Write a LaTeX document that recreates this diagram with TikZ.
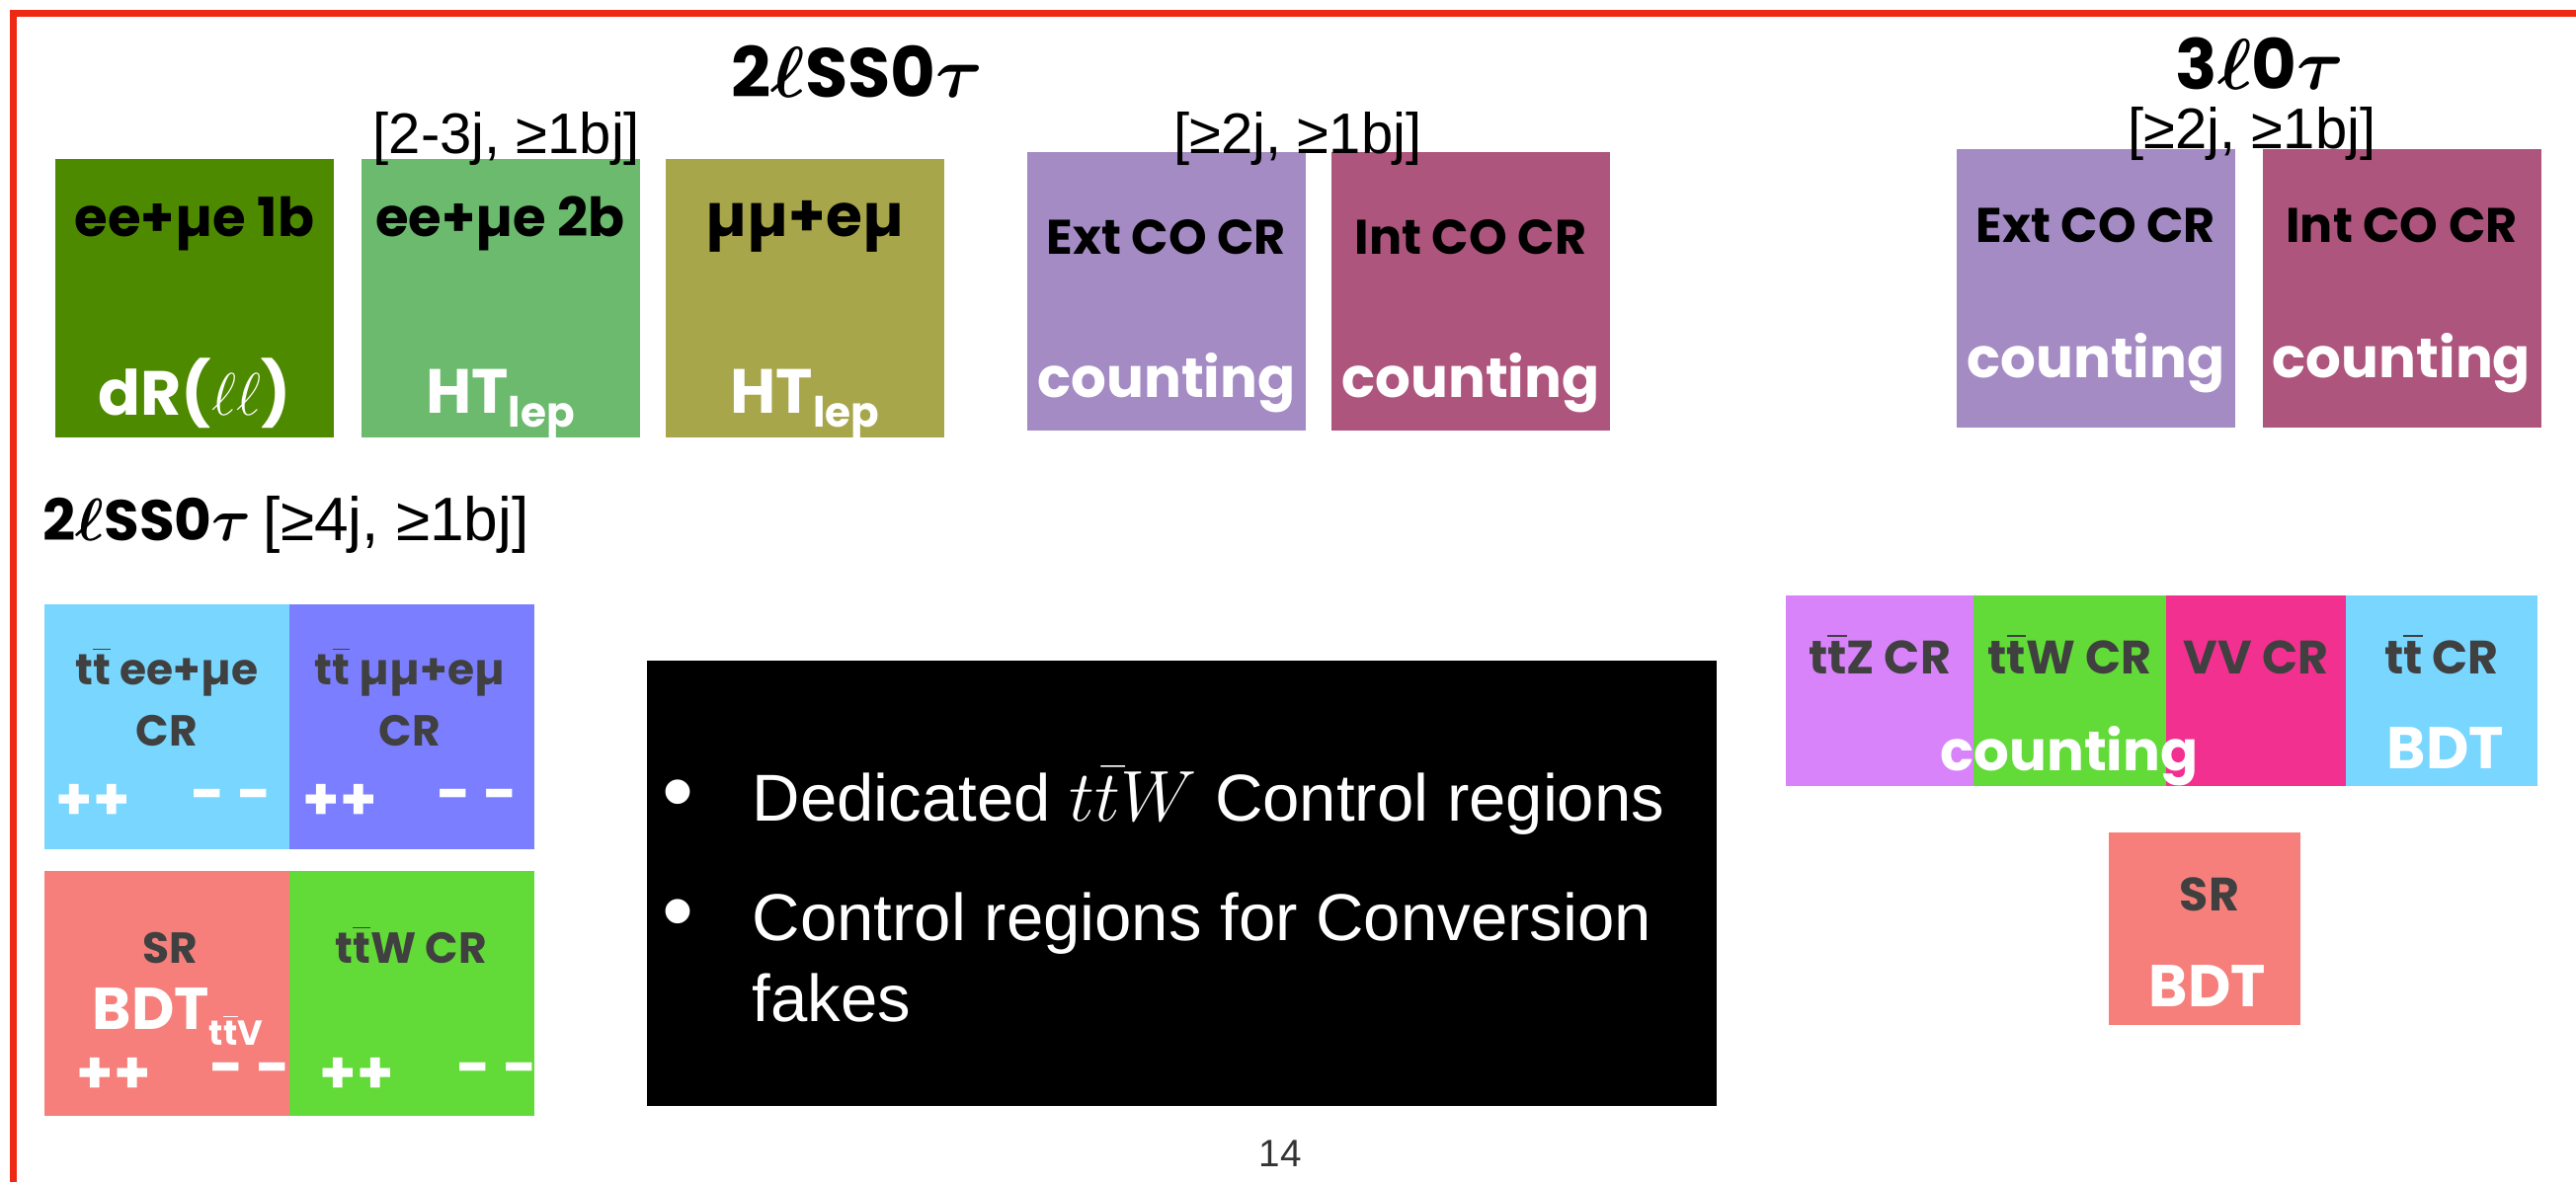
\documentclass[tikz,border=0pt]{standalone}
\usepackage{fontspec}
\usepackage{bm}
\usepackage{xcolor}
\usepackage{tikz}
\usetikzlibrary{positioning}
\newfontfamily\lblfont{Poppins}
\newfontfamily\helvfont{Liberation Sans}
\definecolor{framered}{HTML}{EE2A14}
\definecolor{dkgreen}{HTML}{4E8A00}
\definecolor{ltgreen}{HTML}{6BBA6E}
\definecolor{olive}{HTML}{A8A64A}
\definecolor{lavender}{HTML}{A48BC4}
\definecolor{mauve}{HTML}{AE557D}
\definecolor{skyblue}{HTML}{78D6FF}
\definecolor{periwinkle}{HTML}{7B7FFF}
\definecolor{salmon}{HTML}{F67F7B}
\definecolor{brgreen}{HTML}{62DA38}
\definecolor{violet}{HTML}{D883FA}
\definecolor{hotpink}{HTML}{F2308F}
\definecolor{lblgray}{HTML}{404040}
\newcommand{\ttbar}{t$\overline{\hbox{t}}$}

\begin{document}
\begin{tikzpicture}[
  regbox/.style={rectangle, inner sep=0pt, minimum width=2.82cm, minimum height=2.82cm},
  gridbox/.style={rectangle, inner sep=0pt, minimum width=2.48cm, minimum height=2.48cm},
  rowbox/.style={rectangle, inner sep=0pt, minimum height=1.93cm},
  titlelbl/.style={font=\lblfont\bfseries\fontsize{20}{23}\selectfont, inner sep=0pt, anchor=base},
  jetlbl/.style={font=\helvfont\fontsize{16.5}{19}\selectfont, inner sep=0pt, anchor=base},
  toplbl/.style={font=\lblfont\bfseries\fontsize{14}{16}\selectfont, text=black, inner sep=0pt, anchor=base},
  botlbl/.style={font=\lblfont\bfseries\fontsize{16}{19}\selectfont, text=white, inner sep=0pt, anchor=base},
  varlbl/.style={botlbl, font=\lblfont\bfseries\fontsize{18}{21}\selectfont},
  graylbl/.style={font=\lblfont\bfseries\fontsize{12.5}{15}\selectfont, text=lblgray, inner sep=0pt, anchor=base},
  rowlbl/.style={font=\lblfont\bfseries\fontsize{13.5}{16}\selectfont, text=lblgray, inner sep=0pt, anchor=base},
  signlbl/.style={font=\lblfont\bfseries\fontsize{17}{20}\selectfont, text=white, inner sep=0pt},
  bultxt/.style={font=\helvfont\fontsize{19.1}{23}\selectfont, text=white, inner sep=0pt, anchor=base west},
  buldot/.style={font=\helvfont\fontsize{26}{28}\selectfont, text=white, inner sep=0pt},
  frameline/.style={framered, line width=0.07cm}
]
\useasboundingbox (0,0) rectangle (26.08,-11.97);

%--- Frame ---
\draw[frameline] (0.135,-11.97) -- (0.135,-0.135) -- (26.08,-0.135);

%--- 2lSS0tau : 2-3 jets ---
\node[regbox, fill=dkgreen] (ee1b) at (1.97,-3.02) {};
\node[regbox, fill=ltgreen] (ee2b) at (5.065,-3.02) {};
\node[regbox, fill=olive]   (mumu) at (8.15,-3.02) {};
\node[toplbl, font=\lblfont\bfseries\fontsize{15.5}{18}\selectfont] (ee1bT) at (1.97,-2.39)  {ee+µe 1b};
\node[toplbl, font=\lblfont\bfseries\fontsize{15.5}{18}\selectfont] (ee2bT) at (5.065,-2.39) {ee+µe 2b};
\node[toplbl, font=\lblfont\bfseries\fontsize{17}{19}\selectfont] (mumuT) at (8.15,-2.39)  {µµ+eµ};
\node[varlbl] (ee1bB) at (1.97,-4.2)  {dR($\ell\ell$)};
\node[varlbl] (ee2bB) at (5.065,-4.18) {HT\raisebox{-0.4ex}{\fontsize{12}{13}\selectfont lep}};
\node[varlbl] (mumuB) at (8.15,-4.18)  {HT\raisebox{-0.4ex}{\fontsize{12}{13}\selectfont lep}};
\node[titlelbl] (ttl2l) at (8.68,-0.98) {2$\bm{\ell}$SS0$\bm{\tau}$};
\node[jetlbl] (jet2l) at (5.13,-1.55) {[2-3j, ≥1bj]};

%--- 2lSS0tau : conversion CRs ---
\node[regbox, fill=lavender] (extA) at (11.81,-2.945) {};
\node[regbox, fill=mauve]    (intA) at (14.89,-2.945) {};
\node[toplbl] (extAT) at (11.81,-2.57) {Ext CO CR};
\node[toplbl] (intAT) at (14.89,-2.57) {Int CO CR};
\node[botlbl] (extAB) at (11.81,-4.02) {counting};
\node[botlbl] (intAB) at (14.89,-4.02) {counting};
\node[jetlbl] (jetco) at (13.14,-1.55) {[≥2j, ≥1bj]};

%--- 3l0tau : conversion CRs ---
\node[regbox, fill=lavender] (extB) at (21.22,-2.915) {};
\node[regbox, fill=mauve]    (intB) at (24.315,-2.915) {};
\node[toplbl] (extBT) at (21.22,-2.45)  {Ext CO CR};
\node[toplbl] (intBT) at (24.315,-2.45) {Int CO CR};
\node[botlbl] (extBB) at (21.22,-3.82)  {counting};
\node[botlbl] (intBB) at (24.315,-3.82) {counting};
\node[titlelbl] (ttl3l) at (22.88,-0.90) {3$\bm{\ell}$0$\bm{\tau}$};
\node[jetlbl] (jet3l) at (22.80,-1.50) {[≥2j, ≥1bj]};

%--- 2lSS0tau : >=4 jets ---
\node[titlelbl, anchor=base west, font=\lblfont\bfseries\fontsize{16.5}{19}\selectfont] (ttl2lb) at (0.43,-5.47)
  {2$\bm{\ell}$SS0$\bm{\tau}$ {\helvfont\mdseries\fontsize{17.7}{20}\selectfont [≥4j, ≥1bj]}};
\node[gridbox, fill=skyblue]    (ttee) at (1.69,-7.36) {};
\node[gridbox, fill=periwinkle] (ttmm) at (4.165,-7.36) {};
\node[gridbox, fill=salmon]     (srA)  at (1.69,-10.055) {};
\node[gridbox, fill=brgreen]    (ttwA) at (4.165,-10.055) {};
\node[graylbl] (tteeT) at (1.69,-6.93)  {\ttbar\ ee+µe};
\node[graylbl] (tteeC) at (1.69,-7.55)  {CR};
\node[graylbl] (ttmmT) at (4.15,-6.93)  {\ttbar\ µµ+eµ};
\node[graylbl] (ttmmC) at (4.15,-7.55)  {CR};
\node[graylbl] (srAT)  at (1.72,-9.75)  {SR};
\node[graylbl] (ttwAT) at (4.16,-9.75)  {\ttbar W CR};
\node[botlbl, font=\lblfont\bfseries\fontsize{17}{20}\selectfont] (srAB) at (1.80,-10.42)
  {BDT\raisebox{-0.5ex}{\fontsize{10}{11}\selectfont\ttbar V}};
\node[signlbl] (ttPP) at (0.945,-8.12) {++};
\node[signlbl] (ttMM) at (2.345,-8.12) {- -};
\node[signlbl] (tmPP) at (3.445,-8.12) {++};
\node[signlbl] (tmMM) at (4.83,-8.12)  {- -};
\node[signlbl] (srPP) at (1.155,-10.89) {++};
\node[signlbl] (srMM) at (2.535,-10.89) {- -};
\node[signlbl] (twPP) at (3.615,-10.89) {++};
\node[signlbl] (twMM) at (5.03,-10.89)  {- -};

%--- Summary ---
\node[rectangle, fill=black, inner sep=0pt, minimum width=10.83cm, minimum height=4.51cm]
  (summ) at (11.965,-8.945) {};
\node[buldot] (dotA) at (6.86,-8.11) {•};
\node[buldot] (dotB) at (6.86,-9.32) {•};
\node[bultxt] (lineA) at (7.61,-8.31)  {Dedicated $t\bar{t}W$ Control regions};
\node[bultxt] (lineB) at (7.61,-9.52)  {Control regions for Conversion};
\node[bultxt] (lineC) at (7.61,-10.34) {fakes};
\node[font=\helvfont\fontsize{11}{13}\selectfont, text=black!80] (pgnum) at (12.96,-11.68) {14};

%--- 3l0tau : CRs and SR ---
\node[rowbox, fill=violet,  minimum width=1.90cm] (ttz)  at (19.03,-6.995) {};
\node[rowbox, fill=brgreen, minimum width=1.95cm] (ttwB) at (20.955,-6.995) {};
\node[rowbox, fill=hotpink, minimum width=1.82cm] (vv)   at (22.84,-6.995) {};
\node[rowbox, fill=skyblue, minimum width=1.94cm] (tt)   at (24.72,-6.995) {};
\node[rowlbl] (ttzT)  at (19.03,-6.82)  {\ttbar Z CR};
\node[rowlbl] (ttwBT) at (20.955,-6.82) {\ttbar W CR};
\node[rowlbl] (vvT)   at (22.84,-6.82)  {VV CR};
\node[rowlbl] (ttT)   at (24.72,-6.82)  {\ttbar\ CR};
\node[botlbl] (cntB)  at (20.95,-7.8)   {counting};
\node[botlbl, font=\lblfont\bfseries\fontsize{17}{20}\selectfont] (ttB) at (24.76,-7.78) {BDT};
\node[rowbox, fill=salmon, minimum width=1.94cm, minimum height=1.95cm] (srB) at (22.32,-9.405) {};
\node[rowlbl] (srBT) at (22.37,-9.22) {SR};
\node[botlbl, font=\lblfont\bfseries\fontsize{17}{20}\selectfont] (srBB) at (22.35,-10.19) {BDT};

\end{tikzpicture}
\end{document}
